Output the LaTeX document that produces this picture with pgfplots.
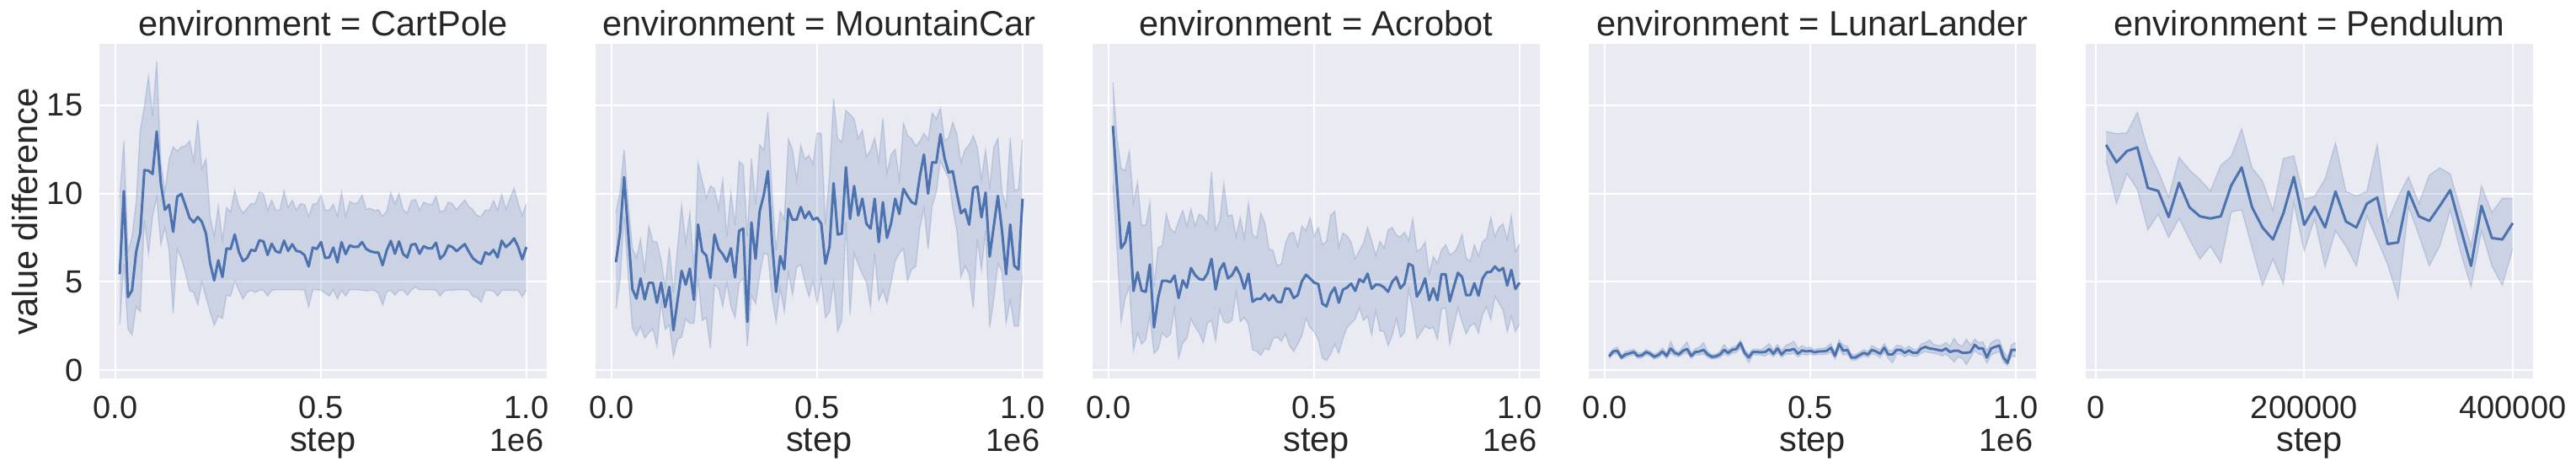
\documentclass[border=0pt]{standalone}
\usepackage{fontspec}
\setmainfont{Liberation Sans}
\usepackage{pgfplots}
\usepackage{pgfplotstable}
\pgfplotsset{compat=1.18}
\usepgfplotslibrary{fillbetween}

\definecolor{sbbg}{RGB}{234,234,242}
\definecolor{sbblue}{RGB}{76,114,176}
\definecolor{sbtext}{RGB}{38,38,38}

\newcommand{\tickfont}{\fontsize{9.5}{11}\selectfont}
\newcommand{\labfont}{\fontsize{10.4}{12}\selectfont}

% step (1e6), mean, lower, upper
\pgfplotstableread{
s m lo hi
0.01 5.43 2.60 9.80
0.02 10.14 6.00 12.97
0.03 4.13 2.33 6.70
0.04 4.52 2.00 7.57
0.05 6.70 3.60 9.50
0.06 7.76 3.30 13.60
0.07 11.33 8.50 14.95
0.08 11.30 6.60 16.65
0.09 11.11 8.70 14.40
0.10 13.52 9.80 17.50
0.11 10.59 7.10 11.80
0.12 9.08 8.10 10.10
0.13 9.37 6.80 11.90
0.14 7.84 3.20 12.65
0.15 9.83 6.86 12.40
0.16 9.98 6.30 12.65
0.17 9.32 5.50 12.70
0.18 8.63 4.50 13.00
0.19 8.37 4.40 11.86
0.20 8.68 3.70 14.16
0.21 8.40 5.00 11.40
0.22 7.73 4.10 11.97
0.23 6.06 3.30 8.70
0.24 5.08 2.54 7.60
0.25 6.22 3.05 9.30
0.26 5.27 2.92 7.37
0.27 6.89 4.24 9.20
0.28 6.86 4.19 8.97
0.29 7.68 5.06 10.20
0.30 6.70 4.52 9.30
0.31 6.17 4.03 8.90
0.32 6.35 4.40 9.16
0.33 6.81 4.52 9.43
0.34 6.75 4.40 9.44
0.35 7.35 4.52 10.10
0.36 7.29 4.52 9.98
0.37 6.52 4.19 9.05
0.38 7.16 4.52 9.63
0.39 6.73 4.55 9.06
0.40 6.65 4.55 9.06
0.41 7.33 4.55 10.17
0.42 6.75 4.55 9.20
0.43 7.13 4.55 9.63
0.44 6.75 4.55 9.06
0.45 6.70 4.55 9.43
0.46 6.51 4.52 9.38
0.47 5.87 3.57 8.71
0.48 6.94 4.55 9.40
0.49 6.86 4.55 9.43
0.50 7.25 4.52 9.90
0.51 6.35 4.37 9.06
0.52 6.38 4.19 9.06
0.53 6.94 4.55 9.40
0.54 6.10 4.03 8.71
0.55 7.25 4.52 10.10
0.56 6.57 4.19 8.71
0.57 7.06 4.55 9.54
0.58 6.98 4.55 9.43
0.59 6.98 4.55 9.48
0.60 7.25 4.52 9.92
0.61 6.86 4.48 9.11
0.62 6.73 4.52 9.16
0.63 6.67 4.52 9.05
0.64 6.65 4.32 9.08
0.65 5.94 3.68 8.71
0.66 6.78 4.43 9.00
0.67 7.32 4.52 10.06
0.68 6.59 4.24 9.40
0.69 7.29 4.52 10.00
0.70 6.57 4.52 9.08
0.71 6.38 4.24 8.90
0.72 7.10 4.52 9.59
0.73 7.14 4.71 9.68
0.74 6.59 4.55 9.05
0.75 7.02 4.55 9.52
0.76 6.90 4.55 9.40
0.77 6.89 4.55 9.38
0.78 7.22 4.52 9.86
0.79 6.30 4.19 8.95
0.80 6.54 4.48 9.05
0.81 7.06 4.52 9.51
0.82 6.97 4.52 9.43
0.83 6.73 4.55 9.08
0.84 6.94 4.55 9.37
0.85 7.14 4.55 9.63
0.86 6.70 4.52 9.27
0.87 6.33 4.16 9.08
0.88 6.14 4.11 8.75
0.89 6.02 3.84 8.71
0.90 6.67 4.52 9.06
0.91 6.54 4.52 9.06
0.92 6.81 4.48 9.60
0.93 6.38 4.19 9.06
0.94 7.33 4.52 9.95
0.95 6.97 4.52 9.13
0.96 7.17 4.52 9.71
0.97 7.46 4.52 10.30
0.98 6.98 4.52 9.48
0.99 6.27 4.16 8.76
1.00 6.97 4.52 9.43
}\cartpole

\pgfplotstableread{
s m lo hi
0.01 6.11 3.48 8.92
0.02 7.76 5.03 10.11
0.03 10.94 8.68 12.49
0.04 7.73 5.35 9.48
0.05 4.59 2.38 6.90
0.06 4.05 1.94 6.38
0.07 5.19 2.44 7.41
0.08 4.00 1.81 5.63
0.09 4.94 2.10 8.16
0.10 4.94 2.33 7.29
0.11 3.81 1.35 7.25
0.12 4.95 3.84 6.25
0.13 3.57 2.29 4.71
0.14 4.71 2.57 6.94
0.15 2.25 0.78 4.40
0.16 3.92 1.73 6.94
0.17 5.62 1.86 9.37
0.18 4.83 2.89 7.22
0.19 5.75 2.65 8.92
0.20 3.97 2.65 5.75
0.21 8.25 5.19 11.73
0.22 6.73 2.81 10.75
0.23 6.49 2.97 9.75
0.24 5.22 1.22 10.43
0.25 7.68 4.83 10.27
0.26 6.86 4.63 9.16
0.27 6.57 3.60 10.79
0.28 6.14 4.95 7.57
0.29 6.90 3.60 10.06
0.30 5.25 2.97 8.21
0.31 7.89 4.90 11.83
0.32 8.02 5.22 11.62
0.33 2.73 1.35 7.57
0.34 8.37 4.24 12.00
0.35 6.30 3.76 9.40
0.36 9.00 5.35 12.76
0.37 9.92 6.62 12.46
0.38 11.27 6.54 14.60
0.39 7.33 4.16 10.11
0.40 4.43 2.73 6.78
0.41 6.46 4.63 9.00
0.42 5.71 3.29 8.52
0.43 9.13 5.51 13.10
0.44 8.52 4.27 12.49
0.45 8.52 5.83 10.79
0.46 9.24 5.98 12.73
0.47 8.60 4.98 11.94
0.48 8.97 4.16 12.17
0.49 8.52 5.06 11.67
0.50 8.63 3.79 13.44
0.51 8.29 5.19 13.41
0.52 6.02 2.97 8.25
0.53 6.98 3.29 11.06
0.54 10.59 4.95 15.38
0.55 7.68 2.17 13.13
0.56 7.73 2.81 12.92
0.57 11.49 8.37 14.71
0.58 8.57 3.13 14.48
0.59 10.43 6.62 14.24
0.60 8.76 5.98 13.13
0.61 9.71 5.43 13.60
0.62 8.29 4.95 12.10
0.63 8.02 3.57 12.46
0.64 9.71 6.59 13.16
0.65 7.25 3.95 11.86
0.66 9.51 4.52 14.27
0.67 7.49 3.79 11.14
0.68 8.32 4.95 12.22
0.69 9.71 6.17 12.52
0.70 8.84 6.62 10.78
0.71 10.27 6.86 14.00
0.72 9.87 5.06 13.29
0.73 9.51 5.70 13.13
0.74 9.40 5.86 12.68
0.75 10.98 8.05 12.97
0.76 12.21 9.16 13.41
0.77 10.00 6.86 13.05
0.78 11.78 9.32 14.56
0.79 11.75 10.08 14.24
0.80 13.37 11.86 14.84
0.81 12.02 11.33 13.00
0.82 11.19 10.90 13.16
0.83 11.27 9.16 14.05
0.84 10.03 7.89 13.37
0.85 8.89 5.27 11.78
0.86 9.11 5.90 12.49
0.87 8.24 5.43 12.76
0.88 10.32 3.52 13.29
0.89 10.40 7.41 12.60
0.90 8.65 5.67 10.83
0.91 10.06 7.89 12.49
0.92 6.43 2.41 10.35
0.93 8.16 4.00 12.62
0.94 9.87 6.02 13.13
0.95 7.89 5.59 10.11
0.96 5.43 2.68 9.27
0.97 8.24 3.92 13.16
0.98 5.90 2.49 10.19
0.99 5.70 2.49 10.24
1.00 9.71 5.35 13.10
}\mountaincar

\pgfplotstableread{
s m lo hi
0.01 13.84 10.50 16.30
0.02 10.43 6.94 13.13
0.03 6.90 2.73 11.43
0.04 7.25 4.08 11.30
0.05 8.37 4.71 12.41
0.06 4.48 1.10 9.51
0.07 5.54 2.10 10.63
0.08 4.50 1.46 8.21
0.09 4.43 1.73 8.21
0.10 5.98 3.05 9.48
0.11 2.41 0.94 4.71
0.12 4.08 1.17 6.94
0.13 5.06 2.10 7.06
0.14 5.06 1.86 8.84
0.15 4.98 2.02 8.02
0.16 5.35 3.48 7.78
0.17 4.08 0.67 8.44
0.18 5.08 1.54 9.05
0.19 4.67 1.78 8.16
0.20 5.78 2.89 9.13
0.21 5.38 2.44 8.16
0.22 5.16 2.10 8.84
0.23 5.11 1.54 8.68
0.24 5.46 2.65 8.29
0.25 6.30 2.81 11.22
0.26 4.56 1.65 7.94
0.27 5.67 3.41 8.44
0.28 6.06 2.73 10.56
0.29 5.19 2.65 8.73
0.30 5.38 2.81 8.79
0.31 5.83 4.40 7.57
0.32 5.38 2.73 8.65
0.33 4.60 2.97 7.49
0.34 5.46 2.57 9.48
0.35 3.87 1.14 7.65
0.36 4.03 1.06 7.49
0.37 4.03 0.83 8.89
0.38 4.32 1.22 8.32
0.39 3.95 1.14 6.86
0.40 4.24 1.78 6.78
0.41 3.87 1.86 5.90
0.42 3.84 1.62 6.02
0.43 4.63 2.05 7.17
0.44 4.59 1.38 7.73
0.45 4.08 1.06 7.81
0.46 4.24 1.46 7.02
0.47 5.03 1.94 8.16
0.48 5.40 2.92 7.89
0.49 5.19 2.41 8.63
0.50 4.95 2.17 7.57
0.51 4.87 1.70 8.08
0.52 3.76 0.67 7.10
0.53 3.60 0.54 7.29
0.54 4.32 0.90 8.76
0.55 4.67 1.46 9.00
0.56 3.81 0.94 6.98
0.57 4.56 1.78 7.76
0.58 4.67 2.41 7.60
0.59 4.90 2.65 7.25
0.60 4.48 2.89 6.30
0.61 5.14 3.52 6.78
0.62 4.98 2.81 7.17
0.63 5.46 3.05 8.08
0.64 4.60 1.97 7.33
0.65 4.84 3.37 6.49
0.66 4.83 2.22 7.30
0.67 4.68 2.17 6.90
0.68 4.43 1.38 7.94
0.69 5.00 1.94 8.08
0.70 5.27 2.89 7.65
0.71 4.63 1.86 7.54
0.72 4.90 2.13 7.81
0.73 6.02 4.56 7.33
0.74 5.90 3.37 8.57
0.75 4.16 1.78 6.73
0.76 4.56 2.13 6.86
0.77 5.19 2.49 7.25
0.78 3.95 2.33 5.48
0.79 4.63 2.41 6.43
0.80 3.95 1.73 6.06
0.81 5.43 3.44 6.81
0.82 5.43 3.52 7.10
0.83 3.89 1.46 6.54
0.84 4.71 2.49 6.65
0.85 5.51 3.52 7.02
0.86 5.27 2.73 7.68
0.87 4.24 2.05 6.35
0.88 4.24 2.49 6.17
0.89 4.92 2.65 7.10
0.90 4.21 2.10 6.46
0.91 5.19 3.13 7.25
0.92 5.54 3.60 7.49
0.93 5.56 2.84 8.65
0.94 5.87 4.16 7.57
0.95 5.62 3.79 8.10
0.96 5.78 3.37 8.29
0.97 4.79 2.17 7.41
0.98 5.67 3.05 8.76
0.99 4.59 2.17 6.70
1.00 4.95 2.60 7.13
}\acrobot

\pgfplotstableread{
s m lo hi
0.01 0.77 0.65 0.92
0.02 1.05 0.90 1.18
0.03 1.09 0.92 1.30
0.04 0.71 0.60 0.85
0.05 0.88 0.72 1.05
0.06 0.94 0.80 1.10
0.07 1.02 0.85 1.18
0.08 0.80 0.66 0.98
0.09 0.83 0.70 0.97
0.10 1.02 0.86 1.15
0.11 0.92 0.78 1.06
0.12 0.75 0.62 0.90
0.13 0.85 0.70 1.02
0.14 1.05 0.88 1.25
0.15 0.80 0.65 0.95
0.16 1.22 0.95 1.62
0.17 0.97 0.80 1.12
0.18 0.88 0.74 1.02
0.19 1.09 0.90 1.32
0.20 1.19 0.95 1.58
0.21 0.80 0.66 0.96
0.22 1.02 0.86 1.20
0.23 1.05 0.85 1.30
0.24 1.14 0.92 1.55
0.25 0.88 0.72 1.05
0.26 0.75 0.62 0.88
0.27 0.77 0.64 0.90
0.28 0.88 0.72 1.05
0.29 1.14 0.92 1.45
0.30 0.97 0.80 1.14
0.31 1.14 0.95 1.30
0.32 1.19 0.98 1.38
0.33 1.53 1.25 1.68
0.34 0.97 0.80 1.15
0.35 0.71 0.42 0.90
0.36 1.02 0.85 1.18
0.37 1.02 0.86 1.18
0.38 1.00 0.84 1.15
0.39 1.02 0.80 1.30
0.40 1.19 0.95 1.50
0.41 0.92 0.75 1.12
0.42 1.22 0.98 1.45
0.43 0.88 0.72 1.10
0.44 1.11 0.90 1.38
0.45 1.12 0.90 1.50
0.46 1.19 0.95 1.62
0.47 0.92 0.75 1.20
0.48 1.11 0.90 1.38
0.49 1.05 0.85 1.25
0.50 1.09 0.90 1.30
0.51 1.00 0.85 1.15
0.52 1.05 0.88 1.22
0.53 1.05 0.88 1.22
0.54 1.09 0.90 1.30
0.55 1.26 1.00 1.50
0.56 0.80 0.62 1.00
0.57 1.48 1.20 1.70
0.58 1.09 0.85 1.40
0.59 1.14 0.90 1.35
0.60 0.71 0.55 0.88
0.61 0.71 0.55 0.88
0.62 0.85 0.70 1.00
0.63 0.97 0.80 1.15
0.64 0.88 0.72 1.05
0.65 1.14 0.92 1.38
0.66 1.05 0.85 1.25
0.67 0.92 0.70 1.15
0.68 1.26 1.00 1.50
0.69 0.88 0.65 1.12
0.70 0.88 0.40 1.10
0.71 1.14 0.92 1.40
0.72 1.14 0.90 1.38
0.73 0.97 0.75 1.20
0.74 1.11 0.88 1.35
0.75 0.97 0.78 1.18
0.76 0.97 0.78 1.15
0.77 1.22 0.95 1.48
0.78 1.31 1.05 1.55
0.79 1.22 0.98 1.70
0.80 1.19 0.95 1.45
0.81 1.14 0.90 1.38
0.82 1.09 0.80 1.40
0.83 1.22 0.90 1.55
0.84 1.02 0.70 1.35
0.85 1.09 0.45 1.80
0.86 1.09 0.75 1.45
0.87 0.97 0.65 1.35
0.88 0.97 0.30 1.75
0.89 1.02 0.70 1.40
0.90 1.43 1.10 1.75
0.91 1.22 0.90 1.55
0.92 1.22 0.85 1.60
0.93 0.71 0.40 1.10
0.94 1.22 0.85 1.55
0.95 1.31 0.95 1.70
0.96 1.39 1.05 1.70
0.97 0.71 0.45 1.10
0.98 0.41 0.25 0.70
0.99 1.14 0.80 1.45
1.00 1.14 0.75 1.55
}\lunarlander

\pgfplotstableread{
s m lo hi
10000 12.76 11.90 13.52
20000 11.77 9.44 13.39
30000 12.41 11.14 13.44
40000 12.62 10.24 14.61
50000 10.32 7.94 12.50
60000 10.15 8.84 11.26
70000 8.67 7.52 9.81
80000 10.61 8.59 12.06
90000 9.22 7.40 11.34
100000 8.71 6.29 10.80
110000 8.59 7.02 10.15
120000 8.71 6.07 11.60
130000 10.46 8.96 12.11
140000 11.48 9.08 13.67
150000 9.22 6.92 11.46
160000 8.08 4.80 10.71
170000 7.40 6.29 9.05
180000 8.88 4.88 11.99
190000 10.95 9.47 12.14
200000 8.23 6.75 9.69
210000 9.25 8.57 9.85
220000 8.08 5.85 10.83
230000 10.12 7.89 12.87
240000 8.42 7.02 10.12
250000 8.08 5.90 9.86
260000 9.42 8.71 10.12
270000 9.78 7.40 12.76
280000 7.14 5.99 8.40
290000 7.23 4.06 9.81
300000 10.12 9.25 10.95
310000 8.71 7.64 9.44
320000 8.45 5.90 11.05
330000 9.30 7.04 11.46
340000 10.20 9.05 11.12
350000 8.03 6.67 9.05
360000 5.90 4.71 7.04
370000 9.30 7.89 10.44
380000 7.48 5.90 8.93
390000 7.40 4.80 9.73
400000 8.33 6.87 9.73
}\pendulum

\pgfplotsset{
  facet/.style={
    scale only axis, width=132.75pt, height=99.25pt, anchor=south west,
    axis background/.style={fill=sbbg},
    axis line style={draw=none},
    major tick length=0pt,
    grid=major, major grid style={white, line width=0.5pt},
    ymin=-0.48, ymax=18.49, ytick={0,5,10,15}, yticklabels={},
    scaled x ticks=false, scaled y ticks=false,
    clip mode=individual,
    tick label style={font=\tickfont, text=sbtext},
    xticklabel style={anchor=base, inner sep=0pt, yshift=-11.75pt},
    yticklabel style={anchor=east, inner sep=0pt, xshift=-4.75pt},
    every axis title/.style={at={(axis description cs:0.5,1)}, anchor=base,
      yshift=2.5pt, inner sep=0pt, font=\labfont, text=sbtext},
    every axis x label/.style={at={(axis description cs:0.5,0)}, anchor=base,
      yshift=-21.5pt, inner sep=0pt, font=\labfont, text=sbtext},
    xlabel={step},
  },
  million/.style={
    xmin=-0.0395, xmax=1.0495, xtick={0,0.5,1}, xticklabels={0.0,0.5,1.0},
  },
  band/.style={draw=sbblue, draw opacity=0.22, line width=0.35pt},
  meanline/.style={sbblue, line width=0.75pt, line join=round},
}

\newcommand{\facet}[2]{%
  \addplot[band, name path=hi#2] table[x=s, y=hi] {#1};
  \addplot[band, name path=lo#2] table[x=s, y=lo] {#1};
  \addplot[fill=sbblue, fill opacity=0.2, draw=none] fill between[of=hi#2 and lo#2];
  \addplot[meanline] table[x=s, y=m] {#1};
}
\newcommand{\offset}{\node[anchor=base east, inner sep=0pt, font=\tickfont, text=sbtext]
  at (axis description cs:1,0) [xshift=-0.75pt, yshift=-21.5pt] {1e6};}

\begin{document}
\begin{tikzpicture}

\begin{axis}[facet, million, at={(29.5pt,27.5pt)}, yticklabels={0,5,10,15},
  title={environment = CartPole}]
\facet{\cartpole}{a}
\offset
\end{axis}

\begin{axis}[facet, million, at={(176.75pt,27.5pt)},
  title={environment = MountainCar}]
\facet{\mountaincar}{b}
\offset
\end{axis}

\begin{axis}[facet, million, at={(324.25pt,27.5pt)},
  title={environment = Acrobot}]
\facet{\acrobot}{c}
\offset
\end{axis}

\begin{axis}[facet, million, at={(471.5pt,27.5pt)},
  title={environment = LunarLander}]
\facet{\lunarlander}{d}
\offset
\end{axis}

\begin{axis}[facet, at={(619pt,27.5pt)},
  xmin=-9500, xmax=419500, xtick={0,200000,400000},
  xticklabels={0,200000,400000},
  title={environment = Pendulum}]
\facet{\pendulum}{e}
\end{axis}

\node[rotate=90, anchor=base, inner sep=0pt, font=\labfont, text=sbtext]
  at (11pt,77.1pt) {value difference};

\pgfresetboundingbox
\path[use as bounding box] (0,0) rectangle (764.5pt,139.75pt);
\end{tikzpicture}
\end{document}
